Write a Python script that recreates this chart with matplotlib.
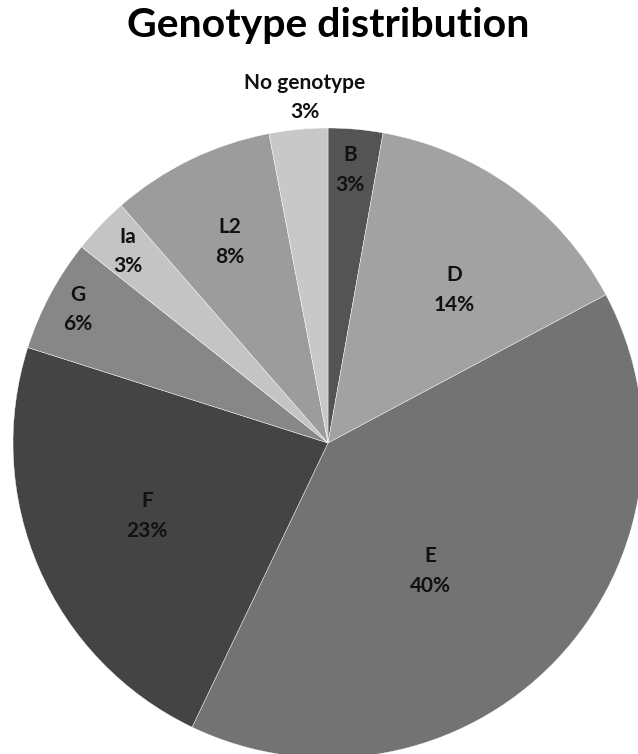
import numpy as np
import matplotlib.pyplot as plt

# genotype shares (%)
genotypes = ['B', 'D', 'E', 'F', 'G', 'Ia', 'L2', 'No genotype']
shares = [2.8, 14.4, 39.9, 22.8, 5.8, 2.9, 8.4, 3.0]
greys = ['#545454', '#a2a2a2', '#737373', '#444444', '#878787', '#c4c4c4', '#9c9c9c', '#c8c8c8']

# label placement: fraction of radius and angular nudge (deg) from slice middle
label_r = [0.87, 0.63, 0.52, 0.62, 0.90, 0.88, 0.71, 1.10]
label_dang = [0.5, -3.5, -7.5, -1.5, 0, 0, 0, -1.5]

plt.rcParams['font.family'] = ['Lato', 'DejaVu Sans']

fig = plt.figure(figsize=(6.38, 7.54), dpi=100)
# pie centre (328, 443) px, radius 315 px
ax = fig.add_axes([13 / 638, -4 / 754, 630 / 638, 630 / 754])

wedges, _ = ax.pie(shares, colors=greys, startangle=90, counterclock=False,
                   radius=1, wedgeprops=dict(edgecolor='white', linewidth=0.3))

for w, name, val, r, da in zip(wedges, genotypes, shares, label_r, label_dang):
    mid = np.deg2rad((w.theta1 + w.theta2) / 2 + da)
    ax.text(r * np.cos(mid), r * np.sin(mid), f'{name}\n{val:.0f}%',
            ha='center', va='center', fontsize=15, fontweight='bold',
            color='#111111', linespacing=1.6)

ax.set_xlim(-1, 1)
ax.set_ylim(-1, 1)
ax.set_aspect('equal')
ax.axis('off')

fig.text(328 / 638, 1 - 26 / 754, 'Genotype distribution', ha='center', va='center',
         fontsize=29.5, fontweight='bold', color='black')

fig.savefig('out.png', dpi=100)
